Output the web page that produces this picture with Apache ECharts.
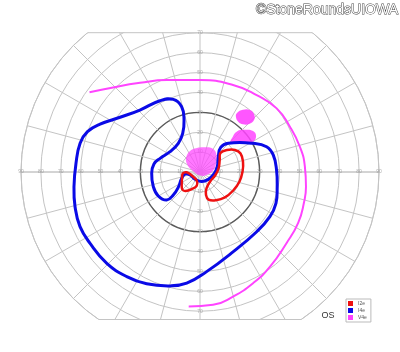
<!DOCTYPE html>
<html><head><meta charset="utf-8">
<script src="https://cdn.jsdelivr.net/npm/echarts@6/dist/echarts.min.js"></script>
<style>html,body{margin:0;padding:0;background:#fff}#c{width:400px;height:352px}</style>
</head><body><div id="c"></div>
<script>
// [eccentricity (deg), meridian angle (deg, CCW from right)]
const hTicks = [10,20,30,40,50,60,70,80,90];
const vTicks = [10,20,30,40,50,60,70];
const legendNames = ['I2e','I4e','V4e'];
const V4eArc = [[68.5,144.2],[61,135.8],[54,123.9],[49.2,109.9],[46.2,90],[46.8,69.2],[48,53.6],[50.1,39.7],[50.6,26.7],[51.8,14.2],[52.8,2.9],[53.8,352.1],[54.5,343.4],[55.6,332.6],[56.3,320.7],[59.2,306.5],[61.9,295.7],[64.8,284.8],[67.1,275.6],[67.9,265.2]];
const V4eBlobCenter = [[9.9,135],[11.7,115.5],[12.2,97.1],[12.7,78.6],[13.4,63.1],[12.5,49.9],[9.6,31.5],[6.9,8.4],[3.8,339],[1.8,270],[3.6,171.9],[7.2,150.8]];
const V4eBlobMid = [[23.5,46.7],[27.6,47.7],[31,43.2],[33.7,37.7],[33.5,32.7],[30.7,29.8],[26.8,32.5],[23.1,38.6],[21.7,44.6]];
const V4eBlobUpper = [[35,57.9],[38,55.4],[40,51.1],[39.7,46.6],[37.7,43.9],[34.5,44.4],[32.3,48],[31.7,52.4],[33,56.8]];
const I4eLoop = [[38.9,110.2],[34.1,105.7],[27.3,107.1],[21.3,114.1],[18.1,127.1],[18.2,145.9],[21.2,161.1],[23.5,170.1],[24.3,181.5],[24.6,197.5],[24.2,209.9],[21.9,220.1],[17.7,220.7],[13.4,215.2],[9.7,199],[7.6,187.6],[5.2,196.7],[4.4,235.6],[4.9,280],[5.6,318.7],[7.1,351.9],[9.1,17],[12,39.9],[16.2,50],[20.3,45.4],[30.4,28.3],[35.8,20.8],[37.8,13.1],[38.5,1.5],[39.5,349.2],[41.3,337.6],[41.7,327.4],[41.4,313.5],[43.4,292.7],[50.2,273.8],[56.3,263.2],[59.2,255.3],[62.3,244.5],[64.2,235],[65.6,224.4],[65.9,213],[66.3,204.5],[65.2,195.5],[63.8,186.7],[62.5,176],[62,166.5],[60.1,160.3],[55.7,154.4],[48.7,145.6],[43.4,134.1],[41.1,119.3]];
const I2eLoopSmall = [[8.6,184.4],[6.7,181.3],[4.5,202.9],[4.6,248.8],[7,256.7],[9.4,244.8],[12,232.7],[12.5,224.7],[11,213.3],[9.5,198.4]];
const I2eLoopLarge = [[14,42.8],[17.5,39.2],[20.8,32.2],[22.4,24.5],[22.2,13.1],[21.4,0.7],[20.4,346.2],[19.1,330.9],[17.9,314.4],[16.3,299.5],[14.5,287.2],[12,284.6],[8.9,291.5],[7,315.9],[7.9,349],[9.6,12.1],[11.6,31.4]];

const RED = '#ee1111', BLUE = '#0a0ae6', MAG = '#ff44ff';

function shapeSeries(name, pts, color, filled, width, opacity) {
  return {
    type: 'custom', name: name, coordinateSystem: 'polar', polarIndex: 0,
    data: pts, itemStyle: { color: color }, silent: true, z: filled ? 3 : 4,
    renderItem: function (params, api) {
      if (params.dataIndex !== 0) return;
      const points = pts.map(p => api.coord(p));
      return {
        type: 'polygon',
        shape: { points: points, smooth: 0.45 },
        style: filled ? { fill: color, opacity: opacity } : { fill: null, stroke: color, lineWidth: width }
      };
    }
  };
}

const tickData = [];
hTicks.forEach(d => { tickData.push({ value: [d, 0], name: String(d) }); tickData.push({ value: [d, 180], name: String(d) }); });
vTicks.forEach(d => { tickData.push({ value: [d, 90], name: String(d) }); tickData.push({ value: [d, 270], name: String(d) }); });

const spokeColors = [];
for (let i = 0; i < 24; i++) spokeColors.push(i % 12 === 0 ? '#a8a8a8' : '#c4c4c4');

const chart = echarts.init(document.getElementById('c'), null, { renderer: 'canvas' });
chart.setOption({
  animation: false,
  backgroundColor: '#fff',
  polar: [{ center: [200, 172], radius: 179 }, { center: [200, 172], radius: 179 }],
  angleAxis: [
    { polarIndex: 0, type: 'value', min: 0, max: 360, interval: 15, startAngle: 0, clockwise: false,
      axisLine: { show: true, lineStyle: { color: '#c4c4c4', width: 1 } },
      axisTick: { show: false }, axisLabel: { show: false },
      splitLine: { show: true, lineStyle: { color: spokeColors, width: 1 } } },
    { polarIndex: 1, type: 'value', min: 0, max: 360, startAngle: 0, clockwise: false,
      axisLine: { show: false }, axisTick: { show: false }, axisLabel: { show: false }, splitLine: { show: false } }
  ],
  radiusAxis: [
    { polarIndex: 0, type: 'value', min: 0, max: 90, interval: 10,
      axisLine: { show: false }, axisTick: { show: false }, axisLabel: { show: false },
      splitLine: { show: true, lineStyle: { color: '#c4c4c4', width: 1 } } },
    { polarIndex: 1, type: 'value', min: 0, max: 90, interval: 30,
      axisLine: { show: false }, axisTick: { show: false }, axisLabel: { show: false },
      splitLine: { show: true, lineStyle: { color: ['rgba(0,0,0,0)', '#5a5a5a', 'rgba(0,0,0,0)', 'rgba(0,0,0,0)'], width: 1.4 } } }
  ],
  legend: {
    data: legendNames, orient: 'vertical', left: 346, top: 299, icon: 'rect',
    itemWidth: 5, itemHeight: 5, itemGap: 2, padding: [2, 4, 2, 2],
    borderColor: '#bbb', borderWidth: 1, backgroundColor: '#fff',
    textStyle: { fontSize: 5, color: '#555' }, selectedMode: false, z: 10
  },
  graphic: [
    { type: 'rect', shape: { x: 0, y: 0, width: 400, height: 32.5 }, style: { fill: '#fff' }, z: 1 },
    { type: 'rect', shape: { x: 0, y: 319.5, width: 400, height: 40 }, style: { fill: '#fff' }, z: 1 },
    { type: 'line', shape: { x1: 87.6, y1: 32.7, x2: 312.4, y2: 32.7 }, style: { stroke: '#c4c4c4', lineWidth: 1 }, z: 1 },
    { type: 'line', shape: { x1: 98.3, y1: 319.5, x2: 301.7, y2: 319.5 }, style: { stroke: '#c4c4c4', lineWidth: 1 }, z: 1 },
    { type: 'text', style: { text: '©StoneRoundsUIOWA', x: 398, y: 10, align: 'right', verticalAlign: 'middle', font: '14px "Liberation Sans", Arial, sans-serif', fill: '#fff', stroke: '#444', lineWidth: 1 }, z: 20 },
    { type: 'text', style: { text: 'OS', x: 328, y: 316, align: 'center', verticalAlign: 'middle', font: '9px "Liberation Sans", Arial, sans-serif', fill: '#333' }, z: 20 }
  ],
  series: [
    shapeSeries('V4e', V4eBlobCenter, MAG, true, 0, 0.72),
    shapeSeries('V4e', V4eBlobMid, MAG, true, 0, 0.85),
    shapeSeries('V4e', V4eBlobUpper, MAG, true, 0, 0.9),
    { type: 'line', name: 'V4e', coordinateSystem: 'polar', polarIndex: 0, data: V4eArc, smooth: true,
      showSymbol: false, color: MAG, lineStyle: { color: MAG, width: 2 }, z: 4, silent: true },
    shapeSeries('I4e', I4eLoop, BLUE, false, 3),
    shapeSeries('I2e', I2eLoopSmall, RED, false, 2.5),
    shapeSeries('I2e', I2eLoopLarge, RED, false, 2.5),
    { type: 'scatter', name: 'ticks', coordinateSystem: 'polar', polarIndex: 0, data: tickData,
      symbol: 'circle', symbolSize: 1, itemStyle: { color: 'rgba(0,0,0,0)' }, silent: true, z: 2,
      label: { show: true, position: 'inside', formatter: '{b}', fontSize: 5, color: '#999' } }
  ]
});
</script>
</body></html>
